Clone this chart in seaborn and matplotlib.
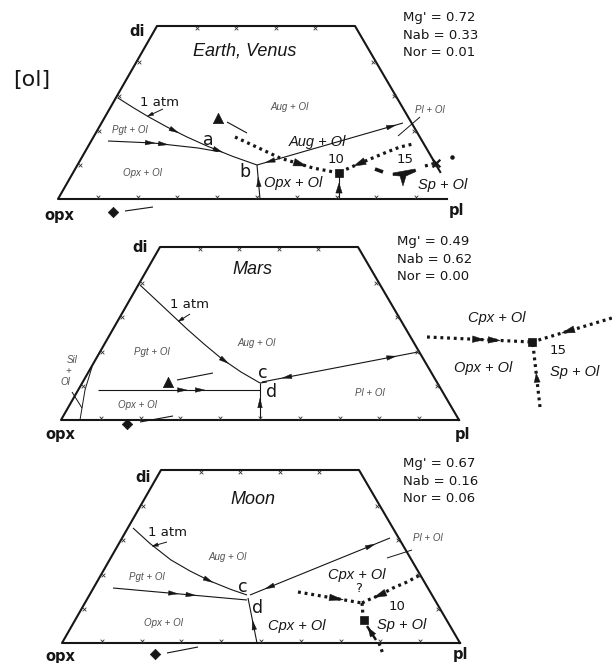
import numpy as np
import pandas as pd
import matplotlib
matplotlib.use("Agg")
import matplotlib.pyplot as plt
from matplotlib.patches import Polygon
import seaborn as sns

sns.set_theme(style="white")
plt.rcParams["font.family"] = ["DejaVu Sans"]

# ---------------------------------------------------------------------------
# Bulk-composition parameters of each projection
PANEL_TITLES = ["Earth, Venus", "Mars", "Moon"]
MG_NUMBER = [0.72, 0.49, 0.67]
NAB = [0.33, 0.62, 0.16]
NOR = [0.01, 0.00, 0.06]

# Projection frame corners (opx, pl, upper-right cut, di) in plot units
FRAME_U = [0, 398, 297, 99]
FRAME_V = [0, 0, 173, 173]
EDGE_TICKS = [0.2, 0.4, 0.6, 0.8]
BASE_TICKS = [0.1, 0.2, 0.3, 0.4, 0.5, 0.6, 0.7, 0.8, 0.9]

# --- Earth, Venus -----------------------------------------------------------
EV_ATM = [(60, 101), (75, 91.5), (90, 82.5), (109, 72), (129, 62), (149, 53), (175, 42.5), (199, 34)]
EV_PGT = [(50, 58), (95, 56), (140, 51), (160, 47.5)]
EV_B_DOWN = [(202, 0), (199, 34)]
EV_AUG = [(199, 34), (345, 76)]
EV_PL_LEADER = [(362, 82), (340, 63)]
EV_ATM_LEADER = [(105, 90), (90, 83)]
EV_10KB_L = [(177, 62), (205, 49), (222, 41), (255, 31), (281, 26)]
EV_10KB_R = [(282, 27), (305, 37), (317, 42), (329, 47), (342, 52), (355, 55)]
EV_10KB_DOWN = [(281, 0), (281, 26)]
EV_10KB_PT = (281, 26)
EV_15KB_DASH = [(317, 30), (325, 27)]
EV_15KB_PT = (344, 21)
EV_15KB_DOTS = [(367, 33), (378, 36)]
EV_15KB_END = (394, 42)
EV_TRI = (160, 81)
EV_TRI_TRAIL = [(169, 77), (189, 66)]
EV_DIA = (55, -13)
EV_DIA_TRAIL = [(67, -12), (95, -8)]

# --- Mars ---------------------------------------------------------------------
MA_ATM = [(79, 135), (94, 121), (110, 106), (126, 91), (143, 76), (161, 61), (180, 48), (199, 37)]
MA_PGT = [(37, 30), (199, 30)]
MA_D_DOWN = [(199, 0), (199, 37)]
MA_CD = [(199, 37), (206, 38)]
MA_PL = [(201, 38), (357, 68)]
MA_ATM_LEADER = [(129, 106), (118, 99)]
MA_SIL = [(31, 53), (24, 30), (19, 0)]
MA_SIL_LEADER = [(11, 28), (21, 12)]
MA_15KB_L = [(366, 83), (471, 78)]
MA_15KB_R = [(471, 78), (551, 102)]
MA_15KB_DOWN = [(479, 13), (472, 75)]
MA_15KB_PT = (471, 78)
MA_TRI = (107, 38)
MA_TRI_TRAIL = [(116, 40), (152, 47)]
MA_DIA = (66, -4)
MA_DIA_TRAIL = [(79, -2), (112, 4)]

# --- Moon ---------------------------------------------------------------------
MO_ATM = [(71, 115), (88, 99.5), (109, 83), (128, 72), (148, 62), (169, 53.5), (185, 48)]
MO_PGT = [(51, 55), (185, 43)]
MO_D_DOWN = [(195, 0), (186, 45)]
MO_PL = [(188, 48), (328, 105)]
MO_PL_LEADER = [(325, 85), (350, 93)]
MO_ATM_LEADER = [(105, 101), (91, 97)]
MO_10KB_L = [(236, 51), (300, 40)]
MO_10KB_R = [(300, 40), (306, 43), (318, 48), (331, 55), (345, 61), (358, 68)]
MO_10KB_DOWN = [(300, 40), (301, 27)]
MO_10KB_PT = (302, 23)
MO_10KB_ARROW = [(305, 17), (314, 3)]
MO_10KB_TAIL = [(317, 0), (321, -11)]
MO_DIA = (93, -11)
MO_DIA_TRAIL = [(105, -10), (136, -4)]

# ---------------------------------------------------------------------------
# Layout: pixel origin of each frame's opx corner, and where frames are cut
PANEL_ORIGIN = [(58, 199), (61, 420), (62, 643)]
RIGHT_EDGE_STOP_V = [27, 0, 0]
BASE_STOP_U = [389, 398, 398]
INFO_POS = [(345, 181), (336, 178), (341, 179)]

INK = "#161616"
GREY = "#505050"
SANS_IT = ["Liberation Sans", "DejaVu Sans"]
STYLES = {
    "corner": dict(fontsize=10.5, fontweight="bold", color=INK),
    "tag": dict(fontsize=16, color=INK),
    "title": dict(fontsize=13, fontstyle="italic", family=SANS_IT, color=INK),
    "field": dict(fontsize=7, fontstyle="italic", family=SANS_IT, color=GREY),
    "phase": dict(fontsize=10.5, fontstyle="italic", family=SANS_IT, color=INK),
    "point": dict(fontsize=12.5, color=INK),
    "note": dict(fontsize=9.5, color=INK),
}
DOTS = (0, (0.9, 1.2))

W, H = 612, 663
fig = plt.figure(figsize=(W / 100, H / 100), dpi=100)
fig.patch.set_facecolor("white")


def panel_axes(i):
    ax = fig.add_axes([0, 0, 1, 1])
    ax.set_axis_off()
    ax.patch.set_alpha(0)
    return ax


def finish(ax, i):
    ox, oy = PANEL_ORIGIN[i]
    ax.set_xlim(-ox, W - ox)
    ax.set_ylim(oy - H, oy)


def curve(ax, pts, lw=0.8, ls="-", cap="butt", color=INK, z=3):
    df = pd.DataFrame(pts, columns=["u", "v"])
    sns.lineplot(data=df, x="u", y="v", sort=False, estimator=None, ax=ax,
                 color=color, linewidth=lw, linestyle=ls, legend=False,
                 solid_capstyle=cap, dash_capstyle=cap, solid_joinstyle="round",
                 zorder=z)


def dotted(ax, pts, lw=2.3):
    curve(ax, pts, lw=lw, ls=DOTS)


def arrowhead(ax, pts, t, length=9.5, half=2.3, reverse=False, z=5):
    p = np.asarray(pts, float)
    seg = np.diff(p, axis=0)
    seg_len = np.hypot(seg[:, 0], seg[:, 1])
    cum = np.concatenate([[0.0], np.cumsum(seg_len)])
    s = t * cum[-1]
    k = int(np.clip(np.searchsorted(cum, s, side="right") - 1, 0, len(seg) - 1))
    d = seg[k] / seg_len[k]
    c = p[k] + d * (s - cum[k])
    if reverse:
        d = -d
    n = np.array([-d[1], d[0]])
    tip = c + d * length / 2
    base = c - d * length / 2
    ax.add_patch(Polygon([tip, base + n * half, base - n * half], closed=True,
                         facecolor=INK, edgecolor=INK, lw=0.3, zorder=z))


def label(ax, u, v, s, kind, **kw):
    ax.text(u, v, s, ha="center", va="center", **STYLES[kind], **kw)


def marker(ax, pt, shape, size):
    sns.scatterplot(x=[pt[0]], y=[pt[1]], marker=shape, s=size, color=INK,
                    edgecolor=INK, linewidth=0.5, ax=ax, legend=False, zorder=6)


def frame(ax, i):
    bl, br, tr, tl = [np.array(c, float) for c in zip(FRAME_U, FRAME_V)]
    stop_v = RIGHT_EDGE_STOP_V[i]
    right_end = tr + (br - tr) * (tr[1] - stop_v) / (tr[1] - br[1])
    base_end = np.array([BASE_STOP_U[i], 0.0])
    curve(ax, [tuple(right_end), tuple(tr), tuple(tl), tuple(bl), tuple(base_end)],
          lw=1.5, cap="projecting")
    edges = [(bl, br, BASE_TICKS), (br, tr, EDGE_TICKS), (tr, tl, EDGE_TICKS), (tl, bl, EDGE_TICKS)]
    tu, tv = [], []
    for a, b, fracs in edges:
        d = (b - a) / np.hypot(*(b - a))
        n = np.array([-d[1], d[0]])
        for f in fracs:
            p = a + (b - a) * f + n * 2.0
            tu.append(p[0])
            tv.append(p[1])
    ax.scatter(tu, tv, marker="x", s=7, color="#333333", linewidths=0.6, zorder=4)


def info(ax, i):
    u0, v0 = INFO_POS[i]
    rows = [("Mg'", MG_NUMBER[i]), ("Nab", NAB[i]), ("Nor", NOR[i])]
    for k, (name, val) in enumerate(rows):
        ax.text(u0, v0 - 17.5 * k, f"{name} = {val:.2f}", ha="left", va="center",
                **STYLES["note"])


def corners(ax, di_pos, opx_pos, pl_pos):
    label(ax, *di_pos, "di", "corner")
    label(ax, *opx_pos, "opx", "corner")
    label(ax, *pl_pos, "pl", "corner")


def leader(ax, pts):
    curve(ax, pts, lw=0.7)
    arrowhead(ax, pts, 0.85, length=6, half=1.8)


# ---------------------------- Earth, Venus ---------------------------------
ax = panel_axes(0)
frame(ax, 0)
curve(ax, EV_ATM)
arrowhead(ax, EV_ATM, 0.42)
arrowhead(ax, EV_ATM, 0.73)
curve(ax, EV_PGT)
arrowhead(ax, EV_PGT, 0.38)
arrowhead(ax, EV_PGT, 0.50)
curve(ax, EV_B_DOWN)
arrowhead(ax, EV_B_DOWN, 0.5)
curve(ax, EV_AUG)
arrowhead(ax, EV_AUG, 0.09, reverse=True)
arrowhead(ax, EV_AUG, 0.92)
curve(ax, EV_PL_LEADER, lw=0.7)
leader(ax, EV_ATM_LEADER)
dotted(ax, EV_10KB_L)
arrowhead(ax, EV_10KB_L, 0.64, length=13, half=3.8)
dotted(ax, EV_10KB_R)
arrowhead(ax, EV_10KB_R, 0.27, length=12, half=3.6, reverse=True)
curve(ax, EV_10KB_DOWN)
arrowhead(ax, EV_10KB_DOWN, 0.42, length=10, half=3.2)
marker(ax, EV_10KB_PT, "s", 28)
curve(ax, EV_15KB_DASH, lw=2.6)
tee = np.array([(-9, 5), (13, 9), (14, 6.5), (4, 2), (1, -8), (-2, 2), (-9, 2.5)], float)
ax.add_patch(Polygon(tee + np.array(EV_15KB_PT), closed=True, facecolor=INK,
                     edgecolor=INK, lw=0.4, zorder=6))
dotted(ax, EV_15KB_DOTS)
ax.scatter([EV_15KB_DOTS[-1][0]], [EV_15KB_DOTS[-1][1]], marker="x", s=30,
           color=INK, linewidths=1.6, zorder=6)
ax.scatter([EV_15KB_END[0]], [EV_15KB_END[1]], marker="o", s=5, color=INK, zorder=6)
marker(ax, EV_TRI, "^", 55)
curve(ax, EV_TRI_TRAIL, lw=0.8)
marker(ax, EV_DIA, "D", 28)
curve(ax, EV_DIA_TRAIL, lw=0.8)

corners(ax, (79, 167), (1, -17), (398, -12))
label(ax, -26, 119, "[ol]", "tag")
label(ax, 187, 148, PANEL_TITLES[0], "title")
info(ax, 0)
label(ax, 101, 96, "1 atm", "note")
label(ax, 150, 59, "a", "point")
label(ax, 187, 27, "b", "point")
label(ax, 72, 69, "Pgt + Ol", "field")
label(ax, 84, 26, "Opx + Ol", "field")
label(ax, 232, 92, "Aug + Ol", "field")
label(ax, 372, 89, "Pl + Ol", "field")
label(ax, 259, 57, "Aug + Ol", "phase")
label(ax, 235, 16, "Opx + Ol", "phase")
label(ax, 385, 14, "Sp + Ol", "phase")
label(ax, 278, 39, "10", "note")
label(ax, 347, 39, "15", "note")
finish(ax, 0)

# ---------------------------------- Mars -----------------------------------
ax = panel_axes(1)
frame(ax, 1)
curve(ax, MA_ATM)
arrowhead(ax, MA_ATM, 0.73)
curve(ax, MA_PGT)
arrowhead(ax, MA_PGT, 0.52)
arrowhead(ax, MA_PGT, 0.63)
curve(ax, MA_D_DOWN)
arrowhead(ax, MA_D_DOWN, 0.46)
curve(ax, MA_CD)
curve(ax, MA_PL)
arrowhead(ax, MA_PL, 0.16, reverse=True)
arrowhead(ax, MA_PL, 0.83)
leader(ax, MA_ATM_LEADER)
curve(ax, MA_SIL, lw=0.7)
curve(ax, MA_SIL_LEADER, lw=0.7)
dotted(ax, MA_15KB_L)
arrowhead(ax, MA_15KB_L, 0.49, length=12, half=3.3)
arrowhead(ax, MA_15KB_L, 0.64, length=12, half=3.3)
dotted(ax, MA_15KB_R)
arrowhead(ax, MA_15KB_R, 0.45, length=13, half=3.5, reverse=True)
dotted(ax, MA_15KB_DOWN)
arrowhead(ax, MA_15KB_DOWN, 0.47, length=9, half=3.0)
marker(ax, MA_15KB_PT, "s", 28)
marker(ax, MA_TRI, "^", 55)
curve(ax, MA_TRI_TRAIL, lw=0.8)
marker(ax, MA_DIA, "D", 28)
curve(ax, MA_DIA_TRAIL, lw=0.8)

corners(ax, (79, 172), (-1, -15), (401, -15))
label(ax, 191, 150, PANEL_TITLES[1], "title")
info(ax, 1)
label(ax, 129, 115, "1 atm", "note")
label(ax, 202, 47, "c", "point")
label(ax, 211, 28, "d", "point")
label(ax, 91, 68, "Pgt + Ol", "field")
label(ax, 196, 77, "Aug + Ol", "field")
label(ax, 76, 15, "Opx + Ol", "field")
label(ax, 309, 27, "Pl + Ol", "field")
label(ax, 11, 60, "Sil", "field")
label(ax, 7, 49, "+", "field")
label(ax, 4, 38, "Ol", "field")
label(ax, 436, 102, "Cpx + Ol", "phase")
label(ax, 422, 52, "Opx + Ol", "phase")
label(ax, 514, 48, "Sp + Ol", "phase")
label(ax, 497, 70, "15", "note")
finish(ax, 1)

# ---------------------------------- Moon -----------------------------------
ax = panel_axes(2)
frame(ax, 2)
curve(ax, MO_ATM)
arrowhead(ax, MO_ATM, 0.69)
curve(ax, MO_PGT)
arrowhead(ax, MO_PGT, 0.45)
arrowhead(ax, MO_PGT, 0.58)
curve(ax, MO_D_DOWN)
arrowhead(ax, MO_D_DOWN, 0.40)
curve(ax, MO_PL)
arrowhead(ax, MO_PL, 0.14, reverse=True)
arrowhead(ax, MO_PL, 0.86)
curve(ax, MO_PL_LEADER, lw=0.7)
leader(ax, MO_ATM_LEADER)
dotted(ax, MO_10KB_L)
arrowhead(ax, MO_10KB_L, 0.6, length=14, half=3.3)
dotted(ax, MO_10KB_R)
arrowhead(ax, MO_10KB_R, 0.3, length=13, half=3.5, reverse=True)
dotted(ax, MO_10KB_DOWN)
marker(ax, MO_10KB_PT, "s", 30)
curve(ax, MO_10KB_ARROW, lw=1.8)
arrowhead(ax, MO_10KB_ARROW, 0.4, length=9, half=3.2, reverse=True)
dotted(ax, MO_10KB_TAIL)
marker(ax, MO_DIA, "D", 28)
curve(ax, MO_DIA_TRAIL, lw=0.8)

corners(ax, (81, 166), (-2, -14), (398, -12))
label(ax, 191, 143, PANEL_TITLES[2], "title")
info(ax, 2)
label(ax, 106, 110, "1 atm", "note")
label(ax, 181, 56, "c", "point")
label(ax, 196, 35, "d", "point")
label(ax, 85, 66, "Pgt + Ol", "field")
label(ax, 166, 86, "Aug + Ol", "field")
label(ax, 101, 20, "Opx + Ol", "field")
label(ax, 366, 105, "Pl + Ol", "field")
label(ax, 295, 68, "Cpx + Ol", "phase")
label(ax, 235, 17, "Cpx + Ol", "phase")
label(ax, 340, 18, "Sp + Ol", "phase")
label(ax, 297, 55, "?", "note")
label(ax, 335, 36, "10", "note")
finish(ax, 2)

fig.savefig("out.png", dpi=100, facecolor="white")
